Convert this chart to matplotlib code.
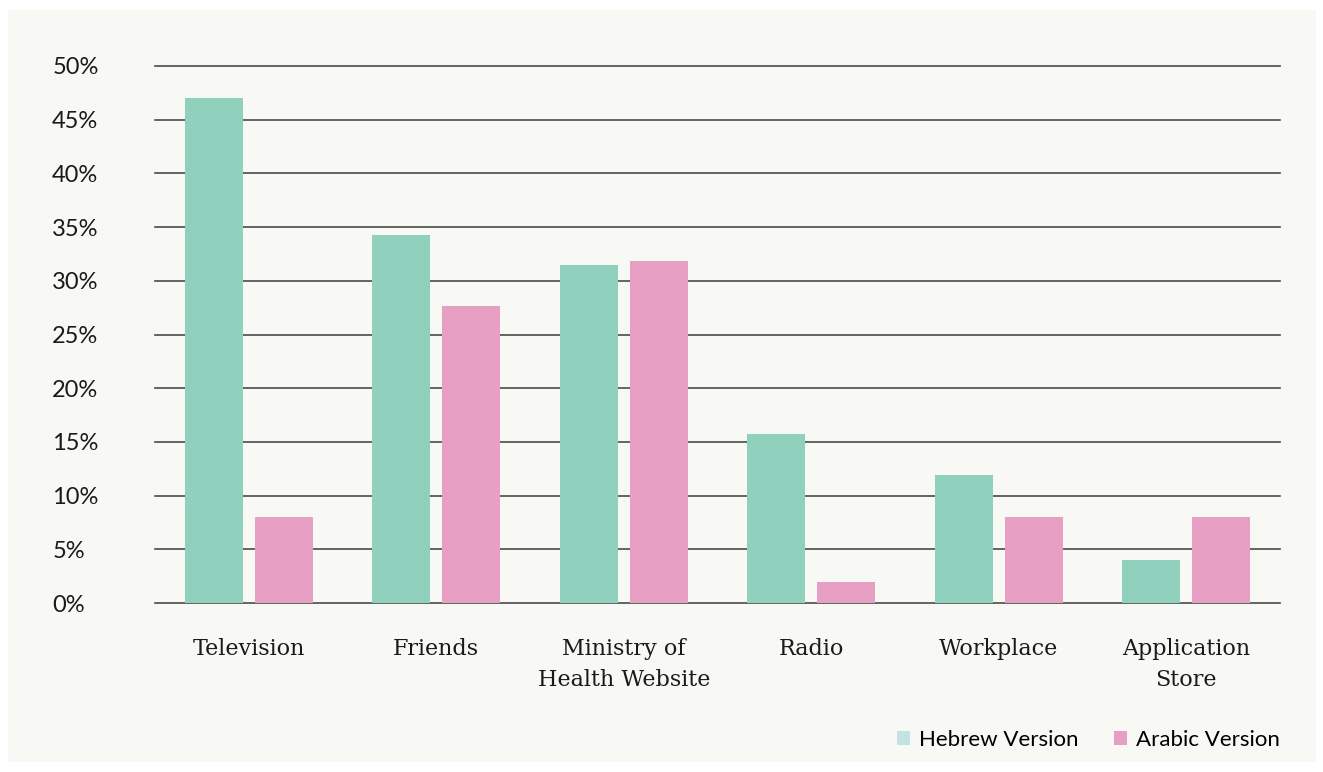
import matplotlib.pyplot as plt
from matplotlib.patches import Rectangle, Patch
import numpy as np

CATEGORIES = ["Television", "Friends", "Ministry of\nHealth Website",
              "Radio", "Workplace", "Application\nStore"]
HEBREW = [47.0, 34.3, 31.5, 15.7, 11.9, 4.0]
ARABIC = [8.0, 27.7, 31.8, 2.0, 8.0, 8.0]
Y_TICKS = [0, 5, 10, 15, 20, 25, 30, 35, 40, 45, 50]

GREEN = "#8fd1bc"
PINK = "#e7a0c3"
LEGEND_GREEN = "#c2e3e2"
PANEL = "#f8f8f4"
GRID = "#4a4a4a"

SANS = ["Lato", "DejaVu Sans"]
SERIF = ["DejaVu Serif"]

fig = plt.figure(figsize=(13.23, 7.72), dpi=100, facecolor="white")
fig.patches.append(Rectangle((8 / 1323, 10 / 772), 1308 / 1323, 752 / 772,
                             transform=fig.transFigure, facecolor=PANEL,
                             edgecolor="none", zorder=0))

ax = fig.add_axes([155 / 1323, (772 - 603) / 772, 1125 / 1323, 537 / 772])
ax.set_facecolor("none")
ax.set_zorder(2)

x = np.arange(len(CATEGORIES))
width = 0.31
gap = 0.064
ax.bar(x - (width + gap) / 2, HEBREW, width, color=GREEN, zorder=3)
ax.bar(x + (width + gap) / 2, ARABIC, width, color=PINK, zorder=3)

ax.set_xlim(-0.5, len(CATEGORIES) - 0.5)
ax.set_ylim(0, 50)
ax.set_yticks(Y_TICKS)
ax.set_yticklabels([f"{v}%" for v in Y_TICKS], family=SANS, fontsize=17,
                   color="#1a1a1a", ha="left")
ax.set_xticks(x)
ax.set_xticklabels(CATEGORIES, family=SERIF, fontsize=16, color="#1a1a1a",
                   linespacing=1.55)
ax.tick_params(axis="y", length=0, pad=74)
ax.tick_params(axis="x", length=0, pad=25)

for v in Y_TICKS:
    ax.axhline(v, color=GRID, linewidth=1.2, zorder=1, clip_on=False)
for side in ax.spines.values():
    side.set_visible(False)

handles = [Patch(facecolor=LEGEND_GREEN, label="Hebrew Version"),
           Patch(facecolor=PINK, label="Arabic Version")]
leg = fig.legend(handles=handles, loc="center right",
                 bbox_to_anchor=(1300 / 1323, (772 - 740) / 772), ncol=2,
                 frameon=False, handlelength=0.6, handleheight=0.6,
                 handletextpad=0.4, columnspacing=1.6,
                 prop={"family": SANS, "size": 16})
leg.set_zorder(3)

fig.savefig("out.png", dpi=100, facecolor="white")
